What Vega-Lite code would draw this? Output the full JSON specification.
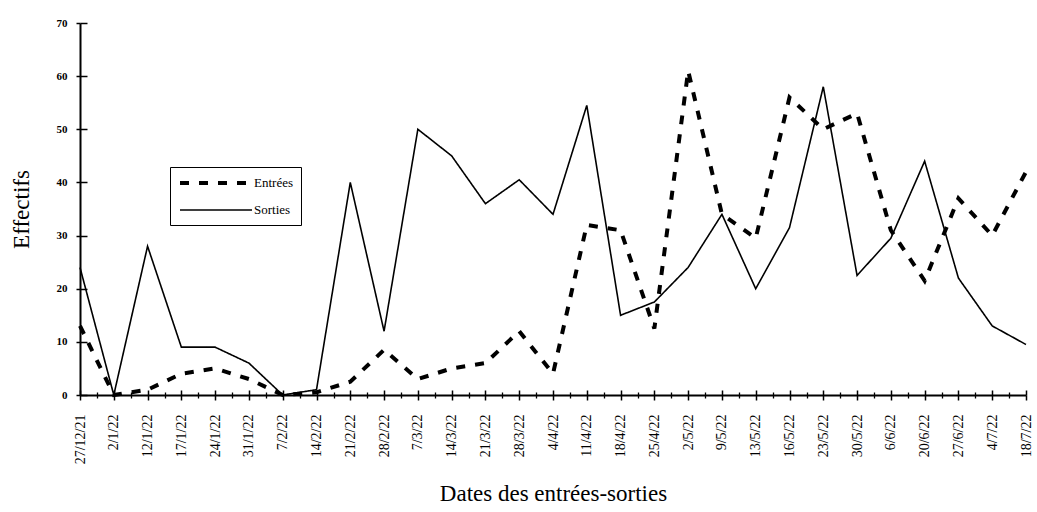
{
  "$schema": "https://vega.github.io/schema/vega-lite/v6.json",
  "autosize": "none",
  "width": 946,
  "height": 372,
  "padding": {"left": 80, "top": 23, "right": 11, "bottom": 117},
  "background": "white",
  "config": {
    "view": {"stroke": null},
    "font": "Liberation Serif",
    "axis": {"labelFont": "Liberation Serif", "titleFont": "Liberation Serif", "labelColor": "black", "titleColor": "black", "domainColor": "black", "tickColor": "black", "grid": false}
  },
  "data": {
    "values": [
      {"date": "27/12/21", "serie": "Entrées", "value": 13},
      {"date": "2/1/22", "serie": "Entrées", "value": 0},
      {"date": "12/1/22", "serie": "Entrées", "value": 1},
      {"date": "17/1/22", "serie": "Entrées", "value": 4},
      {"date": "24/1/22", "serie": "Entrées", "value": 5},
      {"date": "31/1/22", "serie": "Entrées", "value": 3},
      {"date": "7/2/22", "serie": "Entrées", "value": 0},
      {"date": "14/2/22", "serie": "Entrées", "value": 0.5},
      {"date": "21/2/22", "serie": "Entrées", "value": 2.5},
      {"date": "28/2/22", "serie": "Entrées", "value": 8.5},
      {"date": "7/3/22", "serie": "Entrées", "value": 3},
      {"date": "14/3/22", "serie": "Entrées", "value": 5},
      {"date": "21/3/22", "serie": "Entrées", "value": 6},
      {"date": "28/3/22", "serie": "Entrées", "value": 12},
      {"date": "4/4/22", "serie": "Entrées", "value": 4},
      {"date": "11/4/22", "serie": "Entrées", "value": 32},
      {"date": "18/4/22", "serie": "Entrées", "value": 31},
      {"date": "25/4/22", "serie": "Entrées", "value": 12.5},
      {"date": "2/5/22", "serie": "Entrées", "value": 61},
      {"date": "9/5/22", "serie": "Entrées", "value": 34},
      {"date": "13/5/22", "serie": "Entrées", "value": 29.5},
      {"date": "16/5/22", "serie": "Entrées", "value": 56},
      {"date": "23/5/22", "serie": "Entrées", "value": 50},
      {"date": "30/5/22", "serie": "Entrées", "value": 53},
      {"date": "6/6/22", "serie": "Entrées", "value": 31},
      {"date": "20/6/22", "serie": "Entrées", "value": 21.5},
      {"date": "27/6/22", "serie": "Entrées", "value": 37},
      {"date": "4/7/22", "serie": "Entrées", "value": 30},
      {"date": "18/7/22", "serie": "Entrées", "value": 42},
      {"date": "27/12/21", "serie": "Sorties", "value": 24},
      {"date": "2/1/22", "serie": "Sorties", "value": 0},
      {"date": "12/1/22", "serie": "Sorties", "value": 28},
      {"date": "17/1/22", "serie": "Sorties", "value": 9},
      {"date": "24/1/22", "serie": "Sorties", "value": 9},
      {"date": "31/1/22", "serie": "Sorties", "value": 6},
      {"date": "7/2/22", "serie": "Sorties", "value": 0},
      {"date": "14/2/22", "serie": "Sorties", "value": 1},
      {"date": "21/2/22", "serie": "Sorties", "value": 40},
      {"date": "28/2/22", "serie": "Sorties", "value": 12},
      {"date": "7/3/22", "serie": "Sorties", "value": 50},
      {"date": "14/3/22", "serie": "Sorties", "value": 45},
      {"date": "21/3/22", "serie": "Sorties", "value": 36},
      {"date": "28/3/22", "serie": "Sorties", "value": 40.5},
      {"date": "4/4/22", "serie": "Sorties", "value": 34},
      {"date": "11/4/22", "serie": "Sorties", "value": 54.5},
      {"date": "18/4/22", "serie": "Sorties", "value": 15},
      {"date": "25/4/22", "serie": "Sorties", "value": 17.5},
      {"date": "2/5/22", "serie": "Sorties", "value": 24},
      {"date": "9/5/22", "serie": "Sorties", "value": 34},
      {"date": "13/5/22", "serie": "Sorties", "value": 20},
      {"date": "16/5/22", "serie": "Sorties", "value": 31.5},
      {"date": "23/5/22", "serie": "Sorties", "value": 58},
      {"date": "30/5/22", "serie": "Sorties", "value": 22.5},
      {"date": "6/6/22", "serie": "Sorties", "value": 29.5},
      {"date": "20/6/22", "serie": "Sorties", "value": 44},
      {"date": "27/6/22", "serie": "Sorties", "value": 22},
      {"date": "4/7/22", "serie": "Sorties", "value": 13},
      {"date": "18/7/22", "serie": "Sorties", "value": 9.5}
    ]
  },
  "resolve": {"axis": {"x": "independent", "y": "independent"}},
  "layer": [
    {
      "mark": {"type": "line", "color": "black", "clip": false},
      "encoding": {
        "x": {
          "field": "date", "type": "nominal",
          "sort": ["27/12/21","2/1/22","12/1/22","17/1/22","24/1/22","31/1/22","7/2/22","14/2/22","21/2/22","28/2/22","7/3/22","14/3/22","21/3/22","28/3/22","4/4/22","11/4/22","18/4/22","25/4/22","2/5/22","9/5/22","13/5/22","16/5/22","23/5/22","30/5/22","6/6/22","20/6/22","27/6/22","4/7/22","18/7/22"],
          "scale": {"type": "point", "padding": 0},
          "axis": {
            "orient": "bottom",
            "title": "Dates des entrées-sorties", "titleFontSize": 23, "titleFontWeight": "normal", "titlePadding": 19,
            "labelAngle": -90, "labelFontSize": 14, "labelPadding": 14,
            "domainWidth": 2, "tickWidth": 1.5, "tickSize": 5
          }
        },
        "y": {
          "field": "value", "type": "quantitative",
          "scale": {"domain": [0, 70], "nice": false},
          "axis": {
            "orient": "left",
            "title": "Effectifs", "titleFontSize": 23, "titleFontWeight": "normal", "titlePadding": 23,
            "values": [0,10,20,30,40,50,60,70], "labelFontSize": 11, "labelFontWeight": "bold", "labelPadding": 9,
            "domainWidth": 2, "tickWidth": 1.5, "tickSize": 4
          }
        },
        "detail": {"field": "serie"},
        "strokeDash": {
          "field": "serie", "type": "nominal",
          "scale": {"domain": ["Entrées", "Sorties"], "range": [[9, 10], [1, 0]]},
          "legend": {
            "title": null, "orient": "none", "legendX": 90, "legendY": 144,
            "symbolType": "M-1,0L11,0", "symbolSize": 144, "symbolStrokeColor": "black", "symbolStrokeWidth": 3,
            "labelFont": "Liberation Serif", "labelFontSize": 13, "labelColor": "black", "labelOffset": 60,
            "strokeColor": "black", "fillColor": "white", "padding": 8, "rowPadding": 12
          }
        },
        "strokeWidth": {
          "field": "serie", "type": "nominal",
          "scale": {"domain": ["Entrées", "Sorties"], "range": [4, 1.6]},
          "legend": null
        }
      }
    },
    {
      "mark": {"type": "line", "opacity": 0},
      "encoding": {
        "x": {
          "field": "date", "type": "nominal",
          "sort": ["27/12/21","2/1/22","12/1/22","17/1/22","24/1/22","31/1/22","7/2/22","14/2/22","21/2/22","28/2/22","7/3/22","14/3/22","21/3/22","28/3/22","4/4/22","11/4/22","18/4/22","25/4/22","2/5/22","9/5/22","13/5/22","16/5/22","23/5/22","30/5/22","6/6/22","20/6/22","27/6/22","4/7/22","18/7/22"],
          "axis": {"orient": "bottom", "title": null, "labels": false, "domain": false, "tickWidth": 1.5, "tickSize": -5}
        },
        "y": {
          "field": "value", "type": "quantitative",
          "axis": {"orient": "left", "title": null, "labels": false, "domain": false, "values": [0,10,20,30,40,50,60,70], "tickWidth": 1.5, "tickSize": -7}
        },
        "detail": {"field": "serie"}
      }
    },
    {
      "mark": {"type": "line", "opacity": 0},
      "encoding": {
        "x": {
          "field": "date", "type": "nominal",
          "sort": ["27/12/21","2/1/22","12/1/22","17/1/22","24/1/22","31/1/22","7/2/22","14/2/22","21/2/22","28/2/22","7/3/22","14/3/22","21/3/22","28/3/22","4/4/22","11/4/22","18/4/22","25/4/22","2/5/22","9/5/22","13/5/22","16/5/22","23/5/22","30/5/22","6/6/22","20/6/22","27/6/22","4/7/22","18/7/22"],
          "axis": {"orient": "bottom", "title": null, "labels": false, "domain": false, "tickWidth": 1.3, "tickSize": 3, "tickOffset": 17}
        },
        "y": {"field": "value", "type": "quantitative", "axis": null},
        "detail": {"field": "serie"}
      }
    },
    {
      "mark": {"type": "line", "opacity": 0},
      "encoding": {
        "x": {
          "field": "date", "type": "nominal",
          "sort": ["27/12/21","2/1/22","12/1/22","17/1/22","24/1/22","31/1/22","7/2/22","14/2/22","21/2/22","28/2/22","7/3/22","14/3/22","21/3/22","28/3/22","4/4/22","11/4/22","18/4/22","25/4/22","2/5/22","9/5/22","13/5/22","16/5/22","23/5/22","30/5/22","6/6/22","20/6/22","27/6/22","4/7/22","18/7/22"],
          "axis": {"orient": "bottom", "title": null, "labels": false, "domain": false, "tickWidth": 1.3, "tickSize": -3, "tickOffset": 17}
        },
        "y": {"field": "value", "type": "quantitative", "axis": null},
        "detail": {"field": "serie"}
      }
    }
  ]
}
